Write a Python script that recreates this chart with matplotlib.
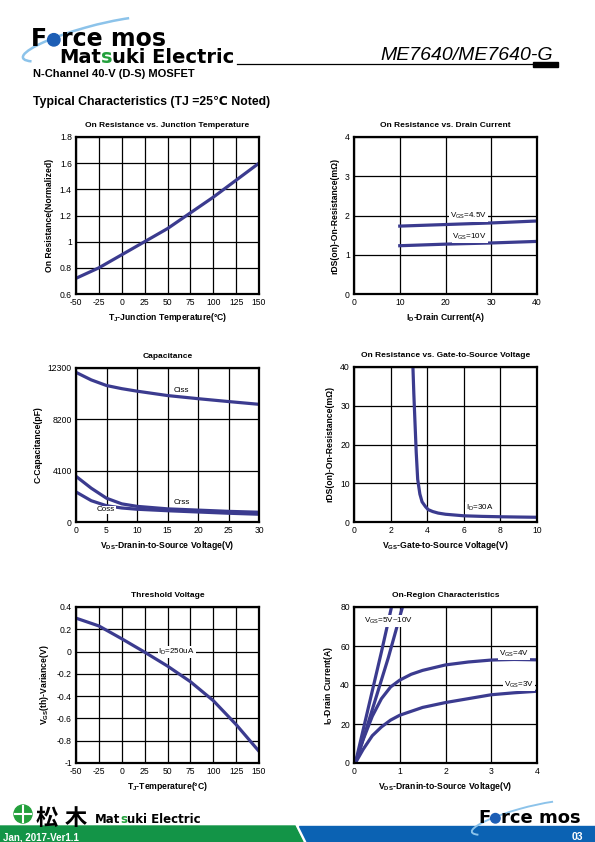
import numpy as np
import matplotlib
matplotlib.use("Agg")
import matplotlib.pyplot as plt
from matplotlib import patches
from matplotlib.transforms import Affine2D

plt.rcParams['font.family'] = ['Liberation Sans', 'DejaVu Sans']
plt.rcParams['axes.unicode_minus'] = False
plt.rcParams['mathtext.fontset'] = 'custom'
plt.rcParams['mathtext.rm'] = 'Liberation Sans'
plt.rcParams['mathtext.bf'] = 'Liberation Sans:bold'

# --- data ---
# 1. On resistance vs junction temperature
tj_temp = [-50, -25, 0, 25, 50, 75, 100, 125, 150]
tj_rnorm = [0.72, 0.80, 0.90, 1.00, 1.10, 1.22, 1.34, 1.47, 1.60]

# 2. On resistance vs drain current
id_curr = [10, 20, 30, 40]
rds_vgs45 = [1.73, 1.77, 1.81, 1.86]
rds_vgs10 = [1.23, 1.27, 1.30, 1.34]

# 3. Capacitance
cap_vds = [0, 2.5, 5, 7.5, 10, 15, 20, 25, 30]
ciss = [11950, 11350, 10900, 10650, 10450, 10100, 9850, 9620, 9400]
coss = [3650, 2700, 1900, 1450, 1250, 1050, 950, 850, 780]
crss = [2400, 1700, 1300, 1120, 1020, 900, 800, 700, 620]
cap_ticks = [0, 4100, 8200, 12300]

# 4. On resistance vs gate-source voltage (ID=30A)
vgs = [3.22, 3.27, 3.33, 3.40, 3.48, 3.60, 3.72, 3.90, 4.05, 4.30, 4.60, 5.0, 5.5, 6.0, 7.0, 8.0, 9.0, 10.0]
rds_vgs = [40, 33, 26, 18, 11, 7.2, 5.2, 4.0, 3.2, 2.7, 2.3, 2.0, 1.8, 1.6, 1.45, 1.35, 1.28, 1.22]

# 5. Threshold voltage variance
vth_temp = [-50, -25, 0, 25, 50, 75, 100, 125, 150]
vth_var = [0.30, 0.23, 0.115, -0.005, -0.13, -0.27, -0.44, -0.655, -0.895]
vth_ticklabels = ['-1', '-0.8', '-0.6', '-0.4', '-0.2', '0', '0.2', '0.4']

# 6. On-region characteristics
vds_a = [0.03, 0.2, 0.4, 0.6, 0.82]
id_a = [0, 17, 37, 57, 80]
vds_b = [0.03, 0.25, 0.5, 0.75, 1.06]
id_b = [0, 16, 35, 54, 80]
vds_4v = [0.03, 0.2, 0.4, 0.6, 0.8, 1.0, 1.25, 1.5, 2.0, 2.5, 3.0, 3.5, 4.0]
id_4v = [0, 12, 24, 33, 39, 42.5, 45.5, 47.5, 50.3, 51.8, 52.8, 53.1, 52.9]
vds_3v = [0.03, 0.2, 0.4, 0.6, 0.8, 1.0, 1.5, 2.0, 2.5, 3.0, 3.5, 4.0]
id_3v = [0, 7, 14, 18.5, 22, 24.5, 28.5, 31, 33, 35, 36, 36.8]

LINE = '#3b3b8f'
W, H = 595, 842

fig = plt.figure(figsize=(W / 100, H / 100), dpi=100)
px = Affine2D().scale(0.01, -0.01).translate(0, H / 100) + fig.dpi_scale_trans
renderer = fig.canvas.get_renderer()


def panel(box, title, xlabel, ylabel, xlim, ylim, xticks, yticks, ylabels=None):
    l, t, r, b = box
    ax = fig.add_axes([l / W, 1 - b / H, (r - l) / W, (b - t) / H])
    ax.set_xlim(xlim)
    ax.set_ylim(ylim)
    ax.set_xticks(xticks)
    ax.set_yticks(yticks)
    if ylabels is not None:
        ax.set_yticklabels(ylabels)
    ax.grid(True, color='black', lw=0.9)
    ax.set_axisbelow(True)
    for s in ax.spines.values():
        s.set_linewidth(1.6)
    ax.tick_params(length=0, pad=3, labelsize=6.2)
    ax.set_title(title, fontsize=6, fontweight='bold', pad=7)
    ax.set_xlabel(xlabel, fontsize=6.2, fontweight='bold', labelpad=3)
    ax.set_ylabel(ylabel, fontsize=6.2, fontweight='bold', labelpad=4)
    return ax


lab = dict(fontsize=5.8, ha='center', va='center',
           bbox=dict(facecolor='white', edgecolor='none', pad=0.6))

# chart 1
ax = panel((76, 137, 259, 294), 'On Resistance vs. Junction Temperature',
           r'T$_\mathbf{J}$-Junction Temperature(°C)', 'On Resistance(Normalized)',
           (-50, 150), (0.6, 1.8), range(-50, 151, 25), np.arange(0.6, 1.81, 0.2),
           ['0.6', '0.8', '1', '1.2', '1.4', '1.6', '1.8'])
ax.plot(tj_temp, tj_rnorm, color=LINE, lw=2.3)

# chart 2
ax = panel((354, 137, 537, 294), 'On Resistance vs. Drain Current',
           r'I$_\mathbf{D}$-Drain Current(A)', 'rDS(on)-On-Resistance(mΩ)',
           (0, 40), (0, 4), range(0, 41, 10), range(0, 5))
ax.plot(id_curr, rds_vgs45, color=LINE, lw=2.3)
ax.plot(id_curr, rds_vgs10, color=LINE, lw=2.3)
ax.text(25, 2.0, r'V$_\mathrm{GS}$=4.5V', **lab)
ax.text(25.3, 1.46, r'V$_\mathrm{GS}$=10V', **lab)

# chart 3
ax = panel((76, 368, 259, 522), 'Capacitance',
           r'V$_\mathbf{DS}$-Dranin-to-Source Voltage(V)', 'C-Capacitance(pF)',
           (0, 30), (0, 12300), range(0, 31, 5), cap_ticks)
ax.plot(cap_vds, ciss, color=LINE, lw=2.3)
ax.plot(cap_vds, coss, color=LINE, lw=2.3)
ax.plot(cap_vds, crss, color=LINE, lw=2.3)
ax.text(17.3, 10540, 'Ciss', **lab)
ax.text(17.3, 1520, 'Crss', **lab)
ax.text(4.9, 960, 'Coss', **lab)

# chart 4
ax = panel((354, 367, 537, 522), 'On Resistance vs. Gate-to-Source Voltage',
           r'V$_\mathbf{GS}$-Gate-to-Source Voltage(V)', 'rDS(on)-On-Resistance(mΩ)',
           (0, 10), (0, 40), range(0, 11, 2), range(0, 41, 10))
ax.plot(vgs, rds_vgs, color=LINE, lw=2.3)
ax.text(6.85, 3.6, r'I$_\mathrm{D}$=30A', **lab)

# chart 5
ax = panel((76, 607, 259, 763), 'Threshold Voltage',
           r'T$_\mathbf{J}$-Temperature(°C)', r'V$_\mathbf{GS}$(th)-Variance(V)',
           (-50, 150), (-1, 0.4), range(-50, 151, 25), np.arange(-1, 0.41, 0.2),
           vth_ticklabels)
ax.plot(vth_temp, vth_var, color=LINE, lw=2.3)
ax.text(60, 0, r'I$_\mathrm{D}$=250uA', **lab)

# chart 6
ax = panel((354, 607, 537, 763), 'On-Region Characteristics',
           r'V$_\mathbf{DS}$-Dranin-to-Source Voltage(V)', r'I$_\mathbf{D}$-Drain Current(A)',
           (0, 4), (0, 80), range(0, 5), range(0, 81, 20))
for xs, ys in [(vds_a, id_a), (vds_b, id_b), (vds_4v, id_4v), (vds_3v, id_3v)]:
    ax.plot(xs, ys, color=LINE, lw=2.3)
ax.text(0.76, 73, r'V$_\mathrm{GS}$=5V~10V', **lab)
ax.text(3.5, 56, r'V$_\mathrm{GS}$=4V', **lab)
ax.text(3.6, 40, r'V$_\mathrm{GS}$=3V', **lab)


# --- header / footer ---
def chain(parts, x, y, size, family='DejaVu Sans', weight='bold'):
    for s, c in parts:
        t = fig.text(x, y, s, color=c, fontsize=size, family=family,
                     fontweight=weight, transform=px, va='baseline')
        x = t.get_window_extent(renderer).x1
    return x


def logo(x, y, size):
    k = size / 17
    fig.add_artist(patches.Arc((x + 62 * k, y - 7 * k), 145 * k, 26 * k, angle=-15,
                               theta1=175, theta2=345, color='#8cc3ea',
                               lw=1.8 * k, transform=px))
    r = 6.2 * k
    x1 = chain([('F', 'black')], x, y, size)
    fig.add_artist(patches.Circle((x1 + r + 0.5 * k, y - r), r,
                                  color='#1d5eb5', transform=px))
    chain([('rce mos', 'black')], x1 + 2 * r + 1.2 * k, y, size)


logo(31, 46, 17)
chain([('Mat', 'black'), ('s', '#23a03c'), ('uki Electric', 'black')], 59, 63, 14)
fig.text(380, 60, 'ME7640/ME7640-G', fontsize=14, style='italic', transform=px,
         va='baseline')
fig.add_artist(plt.Line2D([237, 533], [64, 64], color='black', lw=0.9, transform=px))
fig.add_artist(patches.Rectangle((533, 62), 25, 5, color='black', transform=px))
fig.text(33, 77, 'N-Channel 40-V (D-S) MOSFET', fontsize=8, fontweight='bold',
         transform=px, va='baseline')
fig.text(33, 105, 'Typical Characteristics (TJ =25℃ Noted)', fontsize=8.8,
         fontweight='bold', transform=px, va='baseline')

# footer band
fig.add_artist(patches.Polygon([(0, 826), (295, 826), (303, 842), (0, 842)],
                               color='#139447', transform=px))
fig.add_artist(patches.Polygon([(299, 826), (595, 826), (595, 842), (307, 842)],
                               color='#0b62b3', transform=px))
fig.text(3, 840, 'Jan, 2017-Ver1.1', fontsize=7, fontweight='bold', color='white',
         transform=px, va='baseline')
fig.text(583, 840, '03', fontsize=7.5, fontweight='bold', color='white',
         transform=px, va='baseline', ha='right')

# footer logos
fig.add_artist(patches.Circle((23, 814), 9, color='#23a03c', transform=px))
fig.add_artist(plt.Line2D([23, 23], [806, 822], color='white', lw=1.5, transform=px))
fig.add_artist(plt.Line2D([15, 31], [814, 814], color='white', lw=1.5, transform=px))
fig.text(36, 825, '松', fontsize=16, fontweight='bold', family='Noto Sans CJK JP',
         transform=px, va='baseline')
fig.text(65, 825, '木', fontsize=16, fontweight='bold', family='Noto Sans CJK JP',
         transform=px, va='baseline')
chain([('Mat', 'black'), ('s', '#23a03c'), ('uki Electric', 'black')], 95, 823, 8.5)
logo(478, 823, 13)

fig.savefig('out.png', dpi=100)
